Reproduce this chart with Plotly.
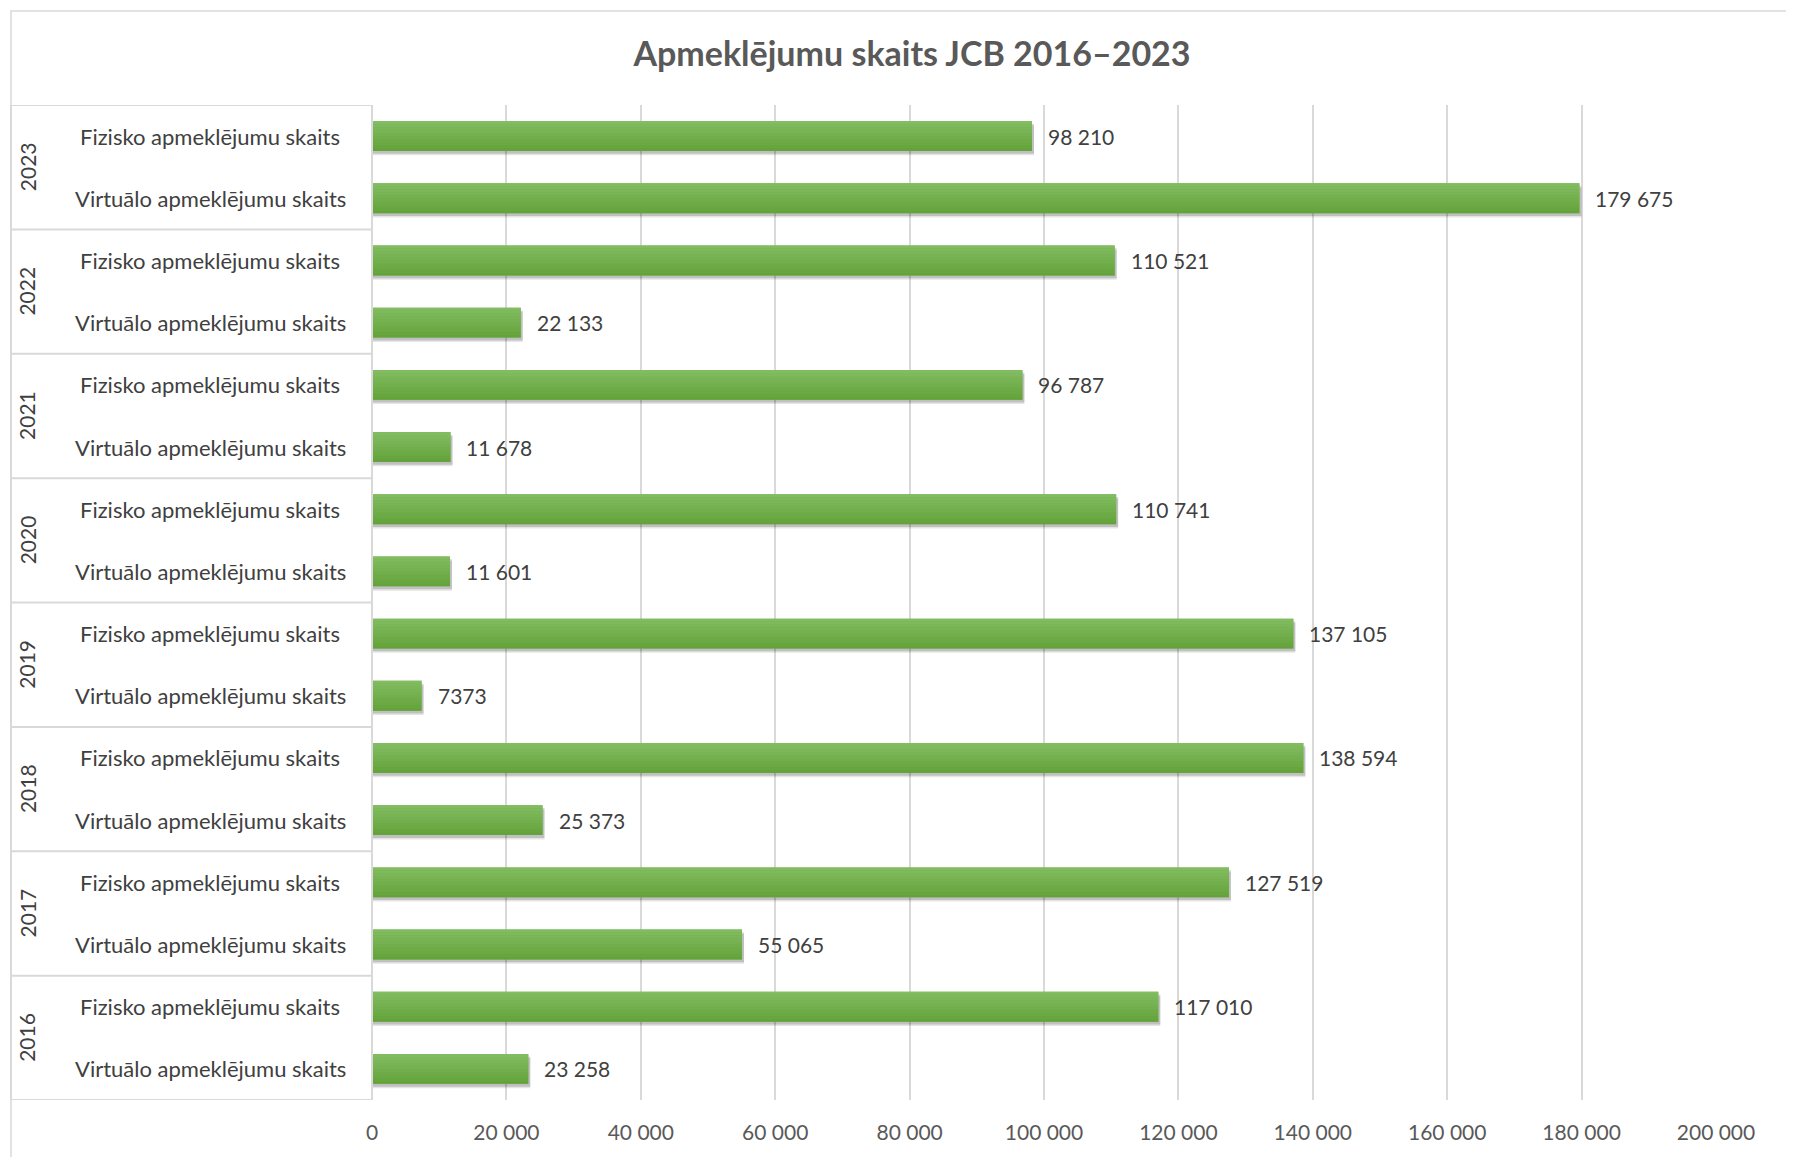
import plotly.graph_objects as go

# ---- data ----
years = ["2023", "2022", "2021", "2020", "2019", "2018", "2017", "2016"]
series_names = ["Fizisko apmeklējumu skaits", "Virtuālo apmeklējumu skaits"]
fizisko = [98210, 110521, 96787, 110741, 137105, 138594, 127519, 117010]
virtualo = [179675, 22133, 11678, 11601, 7373, 25373, 55065, 23258]
tick_vals = [0, 20000, 40000, 60000, 80000, 100000, 120000, 140000, 160000, 180000, 200000]
tick_text = ["0", "20 000", "40 000", "60 000", "80 000", "100 000",
             "120 000", "140 000", "160 000", "180 000", "200 000"]
title_text = "Apmeklējumu skaits JCB 2016–2023"

# ---- layout geometry (pixels) ----
W, H = 1794, 1157
ML, MR, MT, MB = 364, 86, 97, 65
PW = W - ML - MR
PH = H - MT - MB


def px_x(px):
    return (px - ML) / PW


def px_y(py):
    return (H - MB - py) / PH


cats, vals, inner = [], [], []
for y, f, v in zip(years, fizisko, virtualo):
    cats += [f"{y}|F", f"{y}|V"]
    vals += [f, v]
    inner += series_names


def fmt(v):
    return f"{v:,}".replace(",", " ") if v >= 10000 else str(v)


fig = go.Figure()

BW = 0.48
shift_x = 2 * 200000 / PW
# soft shadow
for d, a in [(0.07, 0.10), (0.045, 0.16)]:
    fig.add_trace(go.Bar(
        y=cats, x=[v + shift_x for v in vals], orientation="h",
        width=BW, offset=-BW / 2 + d,
        marker=dict(color=f"rgba(0,0,0,{a})", line=dict(width=0)),
        hoverinfo="skip", showlegend=False))

# base bar plus gradient stripes (top light -> bottom dark)
fig.add_trace(go.Bar(
    y=cats, x=vals, orientation="h", width=BW, offset=-BW / 2,
    marker=dict(color="#72B04B", line=dict(width=0)),
    hoverinfo="skip", showlegend=False))
top_rgb = (0x82, 0xBC, 0x61)
bot_rgb = (0x64, 0xA3, 0x3B)
n = 10
for k in range(n):
    t = k / (n - 1)
    c = tuple(round(a + (b - a) * t) for a, b in zip(top_rgb, bot_rgb))
    fig.add_trace(go.Bar(
        y=cats, x=vals, orientation="h",
        width=BW / n, offset=-BW / 2 + k * BW / n,
        marker=dict(color=f"rgb{c}", line=dict(width=0)),
        hoverinfo="skip", showlegend=False))

annotations = []
# data labels
for c, v in zip(cats, vals):
    annotations.append(dict(x=v, y=c, xref="x", yref="y", text=fmt(v),
                            showarrow=False, xanchor="left", xshift=14,
                            font=dict(size=21, color="#404040", family="Lato")))
# inner category labels
for c, lab in zip(cats, inner):
    annotations.append(dict(x=px_x(202), y=c, xref="paper", yref="y", text=lab,
                            showarrow=False, xanchor="center",
                            font=dict(size=22, color="#404040", family="Lato")))
# year labels
for i, y in enumerate(years):
    annotations.append(dict(x=px_x(19), y=2 * i + 0.5, xref="paper", yref="y", text=y,
                            showarrow=False, textangle=-90, xanchor="center",
                            yanchor="middle",
                            font=dict(size=21, color="#404040", family="Lato")))

shapes = []
box_color = "#D9D9D9"
# outer chart border
shapes.append(dict(type="rect", xref="paper", yref="paper",
                   x0=px_x(3), x1=px_x(W + 10), y0=px_y(H + 10), y1=px_y(3),
                   line=dict(color="#D9D9D9", width=1.5), fillcolor="rgba(0,0,0,0)",
                   layer="below"))
# category box
for i in range(len(years) + 1):
    yy = 2 * i - 0.5
    shapes.append(dict(type="line", xref="paper", yref="y",
                       x0=px_x(3), x1=0, y0=yy, y1=yy,
                       line=dict(color=box_color, width=2)))
shapes.append(dict(type="line", xref="paper", yref="y", x0=px_x(3), x1=px_x(3),
                   y0=-0.5, y1=2 * len(years) - 0.5, line=dict(color=box_color, width=2)))
shapes.append(dict(type="line", xref="paper", yref="y", x0=0, x1=0,
                   y0=-0.5, y1=2 * len(years) - 0.5, line=dict(color=box_color, width=2)))

fig.update_layout(
    width=W, height=H,
    margin=dict(l=ML, r=MR, t=MT, b=MB),
    paper_bgcolor="white", plot_bgcolor="white",
    barmode="overlay",
    title=dict(text=f"<b>{title_text}</b>", x=(912 - 8) / W, xanchor="center",
               y=1 - 46 / H, yanchor="middle", yref="container",
               font=dict(size=34, color="#595959", family="Lato")),
    xaxis=dict(range=[0, 200000], tickvals=tick_vals, ticktext=tick_text,
               showgrid=True, gridcolor="#D9D9D9", gridwidth=1.5, zeroline=False,
               showline=False, ticks="", ticklabelstandoff=18,
               tickfont=dict(size=21, color="#595959", family="Lato")),
    yaxis=dict(type="category", categoryorder="array", categoryarray=cats,
               range=[len(cats) - 0.5, -0.5], showticklabels=False,
               showgrid=False, zeroline=False, showline=False, ticks=""),
    annotations=annotations,
    shapes=shapes,
    showlegend=False,
)

fig.write_html("out.html")
